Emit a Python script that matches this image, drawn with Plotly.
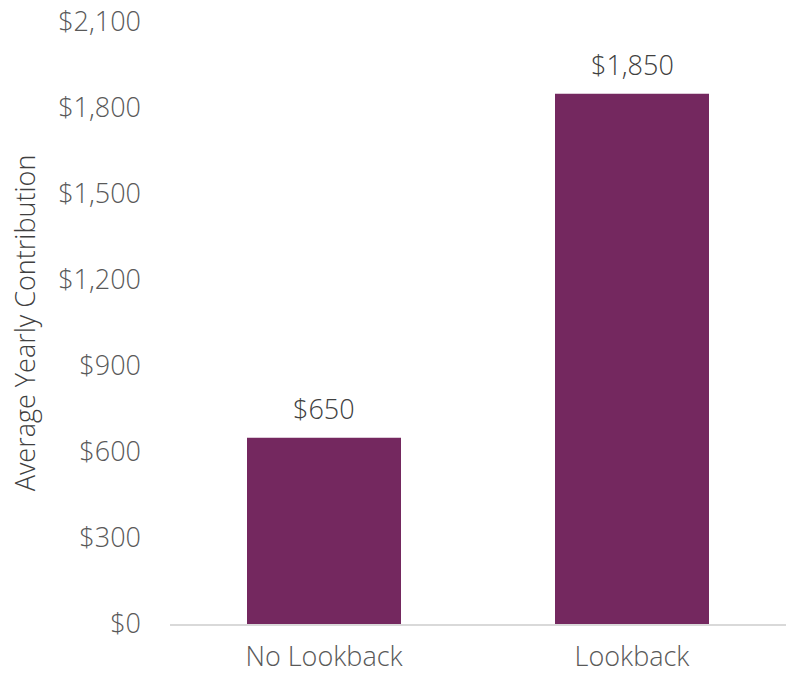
import plotly.graph_objects as go

categories = ["No Lookback", "Lookback"]
values = [650, 1850]
tick_vals = [0, 300, 600, 900, 1200, 1500, 1800, 2100]
tick_text = ["$0", "$300", "$600", "$900", "$1,200", "$1,500", "$1,800", "$2,100"]
labels = ["$650", "$1,850"]

font_family = "Open Sans"
gray = "#595959"

fig = go.Figure(go.Bar(
    x=categories, y=values,
    marker=dict(color="#74285F", line=dict(width=0)),
    width=0.5,
))

for c, v, t in zip(categories, values, labels):
    fig.add_annotation(
        x=c, y=v, text=t, showarrow=False, yanchor="bottom", yshift=9,
        font=dict(family=font_family, size=27, color="#404040", weight=300),
    )

fig.update_layout(
    width=786, height=677,
    margin=dict(l=170, r=0, t=22, b=53),
    paper_bgcolor="white", plot_bgcolor="white",
    showlegend=False,
    font=dict(family=font_family, color=gray, size=27, weight=300),
    xaxis=dict(
        showgrid=False, showline=True, linecolor="#d9d9d9", linewidth=1.5,
        ticks="", tickfont=dict(size=27, color=gray, weight=300),
        ticklabelstandoff=8, automargin=False,
    ),
    yaxis=dict(
        range=[0, 2100], tickvals=tick_vals, ticktext=tick_text,
        showgrid=False, zeroline=False, showline=False, ticks="",
        tickfont=dict(size=27, color=gray, weight=300),
        ticklabelstandoff=28, automargin=False,
        title=dict(text="Average Yearly Contribution", font=dict(size=27, color="#404040", weight=300), standoff=14),
    ),
)

fig.write_html("out.html")
